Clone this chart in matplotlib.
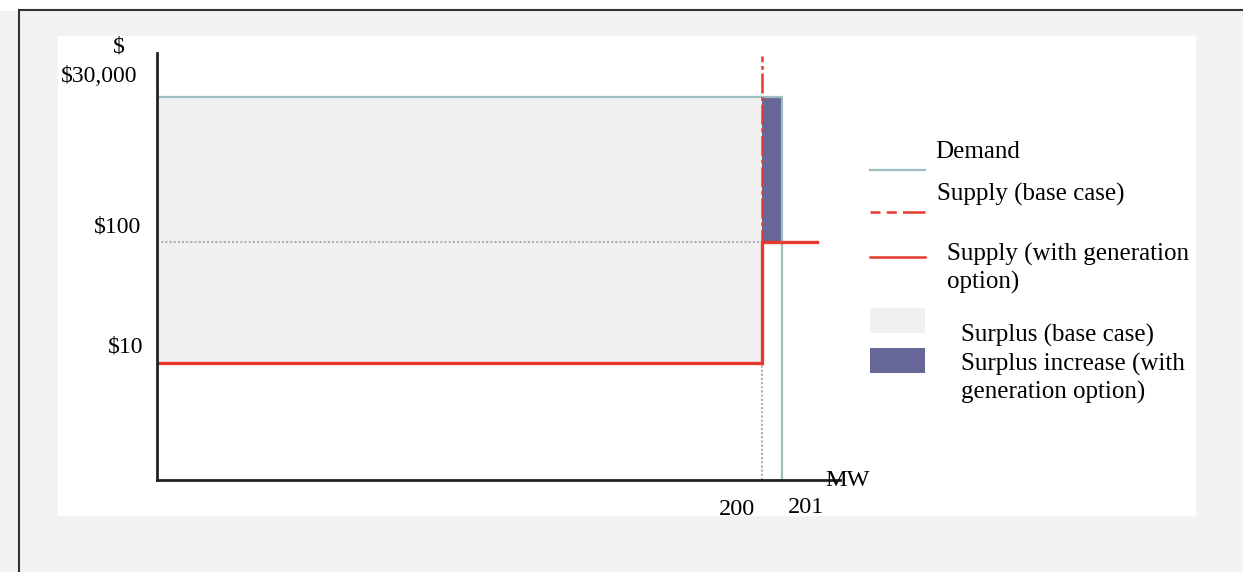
import numpy as np
import matplotlib
matplotlib.use('Agg')
import matplotlib.pyplot as plt
from matplotlib.transforms import offset_copy, blended_transform_factory
from matplotlib.patches import Rectangle
from matplotlib.lines import Line2D

# ---- data (schematic market, MW vs $/MWh) ----
demand_q = [0, 201, 201]
demand_p = [30000, 30000, 0]
supply_base_q = [0, 200, 200]
supply_base_p = [10, 10, 39300]
supply_gen_q = [0, 200, 200, 202.75]
supply_gen_p = [10, 10, 100, 100]
surplus_base_q = [0, 200]
surplus_base_p = [10, 30000]
surplus_inc_q = [200, 201]
surplus_inc_p = [100, 30000]
ref_h_q, ref_h_p = [0, 200], [100, 100]
ref_v_q, ref_v_p = [200, 200], [0, 10]

xtick_vals = [200, 201]
xtick_labels = ['200', '201']
ytick_vals = [10, 100, 30000]
ytick_labels = [r'\$10', r'\$100', r'\$30,000']

W, H = 1243, 572
plt.rcParams['font.family'] = ['Liberation Serif', 'DejaVu Serif']

fig = plt.figure(figsize=(W / 100, H / 100), dpi=100, facecolor='#f2f2f2')

def fx(x):
    return x / W

def fy(y):
    return 1 - y / H

# page frame
fig.add_artist(Rectangle((0, fy(10)), 1, 10 / H, transform=fig.transFigure,
                         color='white', zorder=-2))
fig.add_artist(Rectangle((fx(58), fy(515)), (1195 - 58) / W, (515 - 36) / H,
                         transform=fig.transFigure, color='white', zorder=-1))
fig.add_artist(Line2D([fx(19), 1], [fy(10), fy(10)], color='#333333', lw=1.5))
fig.add_artist(Line2D([fx(19), fx(19)], [fy(10), 0], color='#333333', lw=1.5))

ax = fig.add_axes([fx(157), fy(480), (840 - 157) / W, (480 - 53) / H])
ax.set_facecolor('none')

# piecewise (schematic) scales
x_knots, x_pos = [0, 200, 210], [0, 604.7, 804.7]
y_knots, y_pos = [0, 10, 100, 30000, 40000], [0, 117, 238, 383, 427]
ax.set_xscale('function', functions=(lambda v: np.interp(v, x_knots, x_pos),
                                     lambda v: np.interp(v, x_pos, x_knots)))
ax.set_yscale('function', functions=(lambda v: np.interp(v, y_knots, y_pos),
                                     lambda v: np.interp(v, y_pos, y_knots)))
ax.set_xlim(0, 203.9)
ax.set_ylim(0, 40000)

red = '#e8392f'
ax.fill_between(surplus_base_q, surplus_base_p[0], surplus_base_p[1],
                color='#f0f0f0', lw=0)
ax.fill_between(surplus_inc_q, surplus_inc_p[0], surplus_inc_p[1],
                color='#666699', lw=0)
ax.plot(ref_h_q, ref_h_p, color='#b0b0b0', lw=1.5, ls=(0, (1, 1)))
ax.plot(ref_v_q, ref_v_p, color='#b0b0b0', lw=1.5, ls=(0, (1, 1)))
ax.plot(demand_q, demand_p, color='#9dbdbf', lw=1.6)
ax.plot(supply_gen_q, supply_gen_p, color=red, lw=2.4, solid_joinstyle='miter')
ax.plot(supply_base_q, supply_base_p, color=red, lw=1.8,
        ls=(0, (8, 1.5, 1.5, 1.5)), clip_on=False)

for s in ['top', 'right']:
    ax.spines[s].set_visible(False)
for s in ['left', 'bottom']:
    ax.spines[s].set_linewidth(2)
    ax.spines[s].set_color('#222222')
ax.set_xticks([])
ax.set_yticks([])
ax.minorticks_off()

# tick labels, offset from their lines as in the original
ytr = blended_transform_factory(ax.transAxes, ax.transData)
y_off = [(-14, 11), (-16, 10), (-20, 15)]
for v, lab, (dx, dy) in zip(ytick_vals, ytick_labels, y_off):
    ax.text(0, v, lab, fontsize=17, ha='right', va='baseline',
            transform=offset_copy(ytr, fig=fig, x=dx, y=dy, units='dots'))
xtr = blended_transform_factory(ax.transData, ax.transAxes)
x_off = [(-25, -35), (24, -33)]
for v, lab, (dx, dy) in zip(xtick_vals, xtick_labels, x_off):
    ax.text(v, 0, lab, fontsize=17.5, ha='center', va='baseline',
            transform=offset_copy(xtr, fig=fig, x=dx, y=dy, units='dots'))

fig.text(fx(119), fy(53), r'\$', fontsize=17, ha='center', va='baseline')
fig.text(fx(825), fy(486), 'MW', fontsize=17.5, ha='left', va='baseline')

# legend, drawn by hand to keep the original layout
def key_line(y, **kw):
    fig.add_artist(Line2D([fx(870), fx(925)], [fy(y), fy(y)], **kw))

def key_box(y0, y1, color):
    fig.add_artist(Rectangle((fx(870), fy(y1)), 55 / W, (y1 - y0) / H,
                             transform=fig.transFigure, color=color, lw=0))

def key_text(x, y, s):
    fig.text(fx(x), fy(y), s, fontsize=18, ha='left', va='baseline')

key_line(169.5, color='#9dbdbf', lw=1.6)
key_line(211.5, color=red, lw=1.8, ls=(0, (4, 2.5, 4, 2.5, 12, 0)))
key_line(256.5, color=red, lw=1.8)
key_box(308, 333, '#f0f0f0')
key_box(348, 373, '#666699')

key_text(935, 158, 'Demand')
key_text(937, 201, 'Supply (base case)')
key_text(947, 261, 'Supply (with generation')
key_text(947, 289, 'option)')
key_text(961, 342, 'Surplus (base case)')
key_text(961, 371, 'Surplus increase (with')
key_text(961, 399, 'generation option)')

fig.savefig('out.png', dpi=100, facecolor=fig.get_facecolor())
